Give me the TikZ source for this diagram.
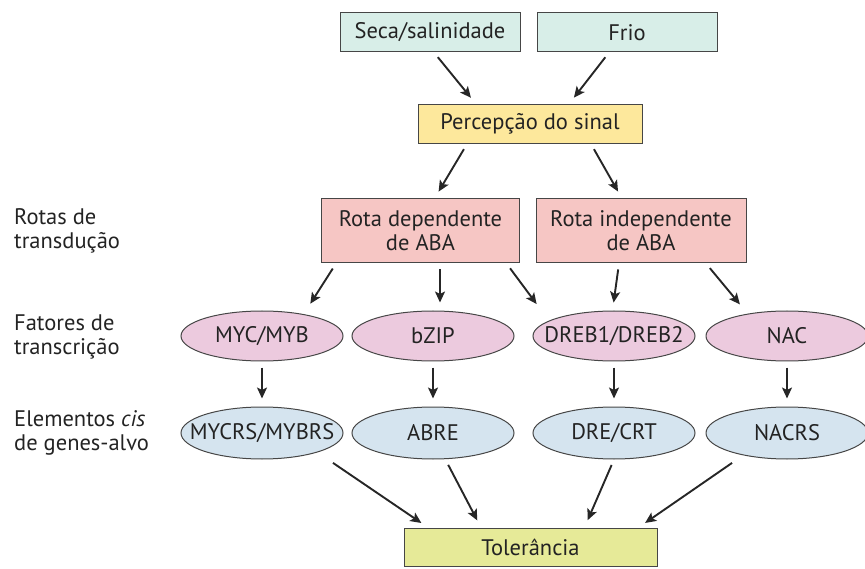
\documentclass[tikz,border=0pt]{standalone}
\usepackage{fontspec}
\setmainfont{PT Sans}
\usepackage{tikz}
\usetikzlibrary{arrows.meta}
\usetikzlibrary{shapes.geometric}
\definecolor{edge}{RGB}{70,70,70}
\definecolor{ink}{RGB}{35,35,35}
\definecolor{stresscol}{RGB}{216,238,232}
\definecolor{signalcol}{RGB}{253,232,156}
\definecolor{routecol}{RGB}{246,198,196}
\definecolor{tfcol}{RGB}{236,202,222}
\definecolor{ciscol}{RGB}{213,228,239}
\definecolor{tolcol}{RGB}{230,234,152}
% text of the ellipses must not widen them
\newcommand{\nowidth}[1]{\makebox[0pt]{#1}}

\begin{document}
\begin{tikzpicture}[
        x=1pt,y=-1pt,
        font=\fontsize{22.5}{24}\selectfont,
        every node/.style={text=ink},
        box/.style 2 args={draw=edge,line width=1pt,fill=#1,
                           minimum width=#2,inner sep=0pt,align=center},
        blob/.style={ellipse,draw=edge,line width=1pt,fill=#1,
                     minimum width=162,minimum height=50,inner sep=0pt},
        rowlabel/.style={anchor=west,align=left,inner sep=0pt},
        flow/.style={-{Stealth[length=11pt,width=10pt,inset=2.5pt]},
                     line width=1.9pt,draw=black!85,
                     shorten <=6pt,shorten >=8pt},
      ]
      \useasboundingbox (0,0) rectangle (865,569);
      % stresses and perception
      \node[box={stresscol}{180},minimum height=39] (seca) at (430,32.5) {Seca/salinidade};
      \node[box={stresscol}{180},minimum height=39] (frio) at (627,32.5) {Frio};
      \node[box={signalcol}{224},minimum height=39] (perc) at (530,124) {Percepção do sinal};
      % transduction routes
      \node[box={routecol}{198},minimum height=64] (abadep) at (420.5,231) {Rota dependente\\de ABA};
      \node[box={routecol}{210},minimum height=64] (abaind) at (641,231) {Rota independente\\de ABA};
      % transcription factors and cis elements
      \foreach \tf\cis\tftext\cistext\xx in {myc/mycrs/MYC\slash MYB/MYCRS\slash MYBRS/262,
                                             bzip/abre/bZIP/ABRE/433,
                                             dreb/dre/DREB1\slash DREB2/DRE\slash CRT/614,
                                             nac/nacrs/NAC/NACRS/787}{
        \node[blob=tfcol] (\tf) at (\xx,336) {\nowidth{\tftext}};
        \node[blob=ciscol,minimum height=52] (\cis) at (\xx,433) {\nowidth{\cistext}};
        \draw[flow] (\tf.south) -- (\cis.north);
      }
      \node[box={tolcol}{253},minimum height=38] (tol) at (530.5,547) {Tolerância};
      % row labels
      \node[rowlabel] (lblrotas) at (14,231) {Rotas de\\transdução};
      \node[rowlabel] (lblfatores) at (14,337) {Fatores de\\transcrição};
      \node[rowlabel] (lblcis) at (14,433) {Elementos \textit{cis}\\de genes-alvo};
      % arrows
      \draw[flow] ([xshift=4]seca.south) -- ([xshift=-54]perc.north);
      \draw[flow] ([xshift=-18]frio.south) -- ([xshift=39]perc.north);
      \draw[flow] ([xshift=-63]perc.south) -- ([xshift=14]abadep.north);
      \draw[flow] ([xshift=61]perc.south) -- ([xshift=-19]abaind.north);
      \draw[flow] ([xshift=-84.5]abadep.south) -- ([xshift=44]myc.north);
      \draw[flow] ([xshift=19.5]abadep.south) -- ([xshift=7]bzip.north);
      \draw[flow] ([xshift=86]abadep.south) -- ([xshift=-72.6]dreb.north);
      \draw[flow] ([xshift=-22]abaind.south) -- ([xshift=-1.5]dreb.north);
      \draw[flow] ([xshift=65]abaind.south) -- ([xshift=-42]nac.north);
      \draw[flow] ([xshift=66]mycrs.south) -- ([xshift=-102.5]tol.north);
      \draw[flow] ([xshift=12.4]abre.south) -- ([xshift=-49.5]tol.north);
      \draw[flow] (dre.south) -- ([xshift=54]tol.north);
      \draw[flow] ([xshift=-50]nacrs.south) -- ([xshift=108]tol.north);
    \end{tikzpicture}
\end{document}
